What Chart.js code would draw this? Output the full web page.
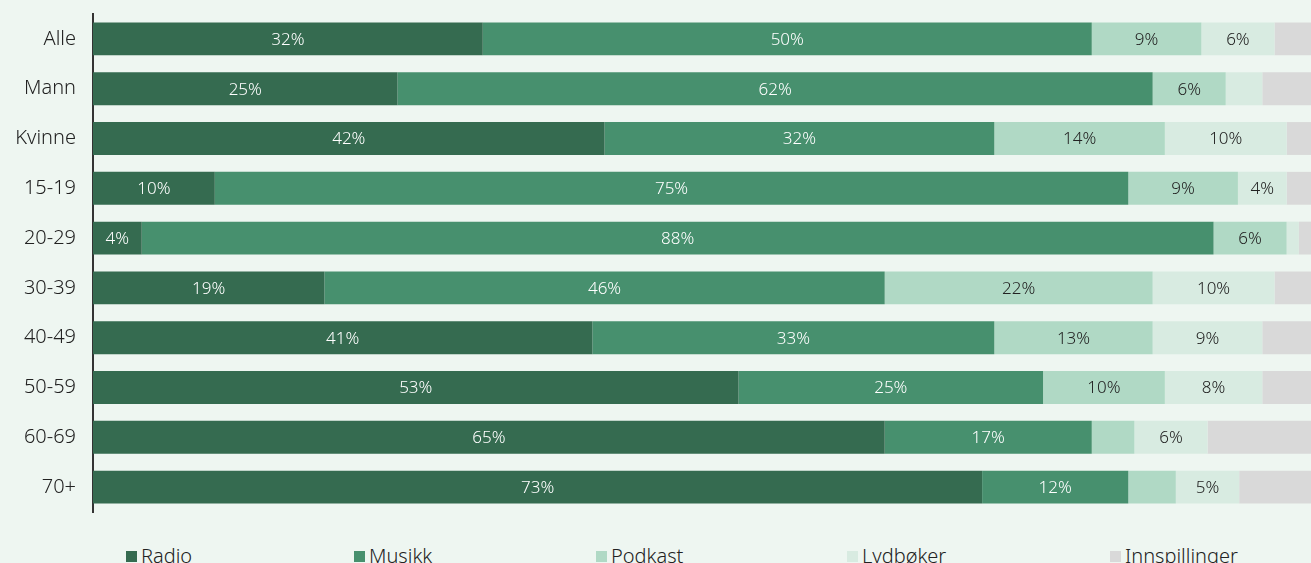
<!DOCTYPE html>
<html>
<head>
<meta charset="utf-8">
<script src="https://cdn.jsdelivr.net/npm/chart.js@4/dist/chart.umd.min.js"></script>
<style>
  html, body { margin: 0; padding: 0; background: #eef6f1; overflow: hidden; width: 1311px; height: 563px; }
  #wrap { position: absolute; left: 0; top: 0; width: 1311px; height: 520px; }
  #legend { position: absolute; left: 0; top: 542px; width: 1311px; height: 30px;
            font-family: "Noto Sans", sans-serif; font-weight: 300; font-size: 20px; color: #222; white-space: nowrap; }
  #legend .item { position: absolute; top: 0; display: flex; align-items: center; height: 26px; }
  #legend .box { width: 11px; height: 11px; margin-right: 4px; display: inline-block; margin-top: 2px; }
</style>
</head>
<body>
<div id="wrap"><canvas id="c"></canvas></div>
<div id="legend"></div>
<script>
const categories = ["Alle", "Mann", "Kvinne", "15-19", "20-29", "30-39", "40-49", "50-59", "60-69", "70+"];
const seriesNames = ["Radio", "Musikk", "Podkast", "Lydbøker", "Innspillinger"];
const radio        = [32, 25, 42, 10, 4, 19, 41, 53, 65, 73];
const musikk       = [50, 62, 32, 75, 88, 46, 33, 25, 17, 12];
const podkast      = [9, 6, 14, 9, 6, 22, 13, 10, 3.5, 3.9];
const lydboker     = [6, 3, 10, 4, 1, 10, 9, 8, 6, 5.2];
const innspillinger= [3, 4, 2, 2, 1, 3, 4, 4, 8.5, 5.9];
const colors = ["#356b50", "#47906e", "#b0d9c5", "#d8ebe1", "#d9d9d9"];
const labelColors = ["#ffffff", "#ffffff", "#222222", "#222222", null];
const legendX = [126, 354, 596, 847, 1110];
const FONT = "\"Noto Sans\", sans-serif";

const seriesValues = [radio, musikk, podkast, lydboker, innspillinger];

const labelPlugin = {
  id: 'barLabels',
  afterDatasetsDraw(chart) {
    const ctx = chart.ctx;
    ctx.save();
    ctx.font = "300 17px " + FONT;
    ctx.textAlign = "center";
    ctx.textBaseline = "middle";
    chart.data.datasets.forEach((ds, di) => {
      if (!labelColors[di]) return;
      const meta = chart.getDatasetMeta(di);
      meta.data.forEach((el, i) => {
        const v = ds.data[i];
        if (v < 4) return;
        const p = el.getProps(['x', 'y', 'base'], true);
        ctx.fillStyle = labelColors[di];
        ctx.fillText(Math.round(v) + "%", (p.x + p.base) / 2, p.y + 1);
      });
    });
    ctx.restore();
  }
};

new Chart(document.getElementById('c'), {
  type: 'bar',
  data: {
    labels: categories,
    datasets: seriesNames.map((n, i) => ({
      label: n,
      data: seriesValues[i],
      backgroundColor: colors[i],
      borderWidth: 0,
      barPercentage: 0.66,
      categoryPercentage: 1.0
    }))
  },
  options: {
    indexAxis: 'y',
    responsive: true,
    maintainAspectRatio: false,
    animation: false,
    layout: { padding: { top: 14, bottom: 8, left: 0, right: 0 } },
    plugins: { legend: { display: false }, tooltip: { enabled: false } },
    scales: {
      x: { stacked: true, min: 0, max: 100, display: false },
      y: {
        stacked: true,
        grid: { display: false, drawTicks: false },
        border: { display: true, color: "#333333", width: 2 },
        ticks: { color: "#222222", font: { family: FONT, size: 20, weight: 300 }, padding: 17 },
        afterFit(scale) { scale.width = 93; scale.paddingTop = 0; scale.paddingBottom = 0; }
      }
    }
  },
  plugins: [labelPlugin]
});

const lg = document.getElementById('legend');
seriesNames.forEach((n, i) => {
  const it = document.createElement('div');
  it.className = 'item';
  it.style.left = legendX[i] + 'px';
  const b = document.createElement('span');
  b.className = 'box';
  b.style.background = colors[i];
  const t = document.createElement('span');
  t.textContent = n;
  it.appendChild(b); it.appendChild(t);
  lg.appendChild(it);
});
</script>
</body>
</html>
